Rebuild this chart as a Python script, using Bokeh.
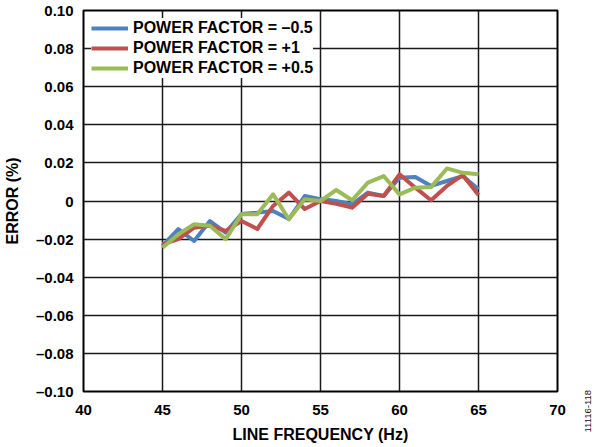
import math
from bokeh.plotting import figure
from bokeh.models import FixedTicker, Range1d, Label, Legend, LegendItem
from bokeh.embed import file_html
from bokeh.resources import INLINE

# Measured error vs. line frequency for three power factors
freq_hz = [45, 46, 47, 48, 49, 50, 51, 52, 53, 54, 55,
           56, 57, 58, 59, 60, 61, 62, 63, 64, 65]
err_pf_neg05 = [-0.0236, -0.0148, -0.0210, -0.0105, -0.0166, -0.0068, -0.0061,
                -0.0052, -0.0095, 0.0026, 0.0010, 0.0000, -0.0017, 0.0044,
                0.0026, 0.0122, 0.0126, 0.0079, 0.0105, 0.0131, 0.0061]
err_pf_pos1 = [-0.0227, -0.0200, -0.0140, -0.0130, -0.0157, -0.0105, -0.0147,
               -0.0026, 0.0044, -0.0042, 0.0000, -0.0015, -0.0035, 0.0038,
               0.0026, 0.0140, 0.0070, 0.0004, 0.0079, 0.0136, 0.0031]
err_pf_pos05 = [-0.0245, -0.0175, -0.0122, -0.0130, -0.0200, -0.0070, -0.0070,
                0.0035, -0.0096, 0.0009, 0.0000, 0.0058, 0.0004, 0.0096,
                0.0131, 0.0035, 0.0070, 0.0073, 0.0171, 0.0148, 0.0140]

series_labels = ["POWER FACTOR = \u20130.5", "POWER FACTOR = +1", "POWER FACTOR = +0.5"]
series_colors = ["#4F81BD", "#C0504D", "#9BBB59"]

x_ticks = [40, 45, 50, 55, 60, 65, 70]
y_ticks = [0.10, 0.08, 0.06, 0.04, 0.02, 0.0, -0.02, -0.04, -0.06, -0.08, -0.10]
y_tick_labels = ["0.10", "0.08", "0.06", "0.04", "0.02", "0",
                 "\u20130.02", "\u20130.04", "\u20130.06", "\u20130.08", "\u20130.10"]

FONT = "Liberation Sans"

p = figure(width=594, height=447, output_backend="svg", toolbar_location=None,
           x_range=Range1d(40, 70), y_range=Range1d(-0.10, 0.10),
           min_border_left=83, min_border_right=37,
           min_border_top=10, min_border_bottom=56)
p.title.visible = False
p.background_fill_color = "white"
p.border_fill_color = "white"
p.outline_line_color = "black"
p.outline_line_width = 2

# axes
p.xaxis.ticker = FixedTicker(ticks=x_ticks)
p.yaxis.ticker = FixedTicker(ticks=y_ticks)
p.yaxis.major_label_overrides = {t: s for t, s in zip(y_ticks, y_tick_labels)}
p.xaxis.axis_label = "LINE FREQUENCY (Hz)"
p.yaxis.axis_label = "ERROR (%)"
for ax in (p.xaxis, p.yaxis):
    ax.axis_line_color = None
    ax.major_tick_line_color = None
    ax.minor_tick_line_color = None
    ax.major_tick_out = 0
    ax.major_tick_in = 0
    ax.major_label_text_font = FONT
    ax.major_label_text_font_style = "bold"
    ax.major_label_text_font_size = "15px"
    ax.major_label_text_color = "black"
    ax.axis_label_text_font = FONT
    ax.axis_label_text_font_style = "bold"
    ax.axis_label_text_font_size = "16px"
    ax.axis_label_text_color = "black"
p.xaxis.major_label_standoff = 13
p.xaxis.axis_label_standoff = 8
p.yaxis.major_label_standoff = 10
p.yaxis.axis_label_standoff = 12

# grid
p.xgrid.ticker = FixedTicker(ticks=x_ticks)
p.ygrid.ticker = FixedTicker(ticks=y_ticks)
for g in (p.xgrid, p.ygrid):
    g.grid_line_color = "#1a1a1a"
    g.grid_line_width = 1.5
    g.grid_line_alpha = 1.0

# series
items = []
for ys, lab, col in zip([err_pf_neg05, err_pf_pos1, err_pf_pos05], series_labels, series_colors):
    r = p.line(freq_hz, ys, line_color=col, line_width=4, line_join="round")
    items.append(LegendItem(label=lab, renderers=[r]))

legend = Legend(items=items, location="top_left", margin=8, padding=2, spacing=0,
                label_height=20, glyph_height=20, glyph_width=37, label_standoff=5,
                label_text_font=FONT, label_text_font_style="bold",
                label_text_font_size="16px", label_text_color="black",
                background_fill_color="white", background_fill_alpha=1.0,
                border_line_color=None)
p.add_layout(legend)

# figure id in the right border panel
p.add_layout(Label(x=30, y=-41, x_units="screen", y_units="screen",
                   text="11116-118", angle=math.pi / 2,
                   text_align="left", text_baseline="middle",
                   text_font=FONT, text_font_size="9.5px", text_color="#111111"),
             "right")

open("out.html", "w").write(file_html(p, INLINE))
